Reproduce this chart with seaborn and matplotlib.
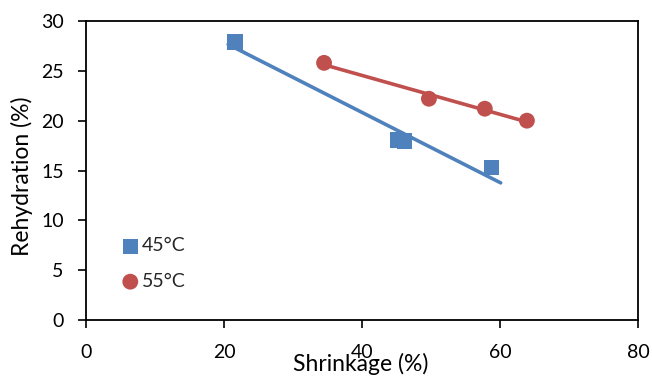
import numpy as np
import pandas as pd
import matplotlib
matplotlib.use("Agg")
import matplotlib.pyplot as plt
import seaborn as sns

# Shrinkage (%) vs rehydration (%) at two drying temperatures
shrink_45 = [21.6, 45.1, 46.2, 58.8]
rehyd_45 = [27.9, 18.05, 17.95, 15.3]
shrink_55 = [34.5, 49.7, 57.8, 63.9]
rehyd_55 = [25.8, 22.2, 21.2, 20.0]
labels = ["45°C", "55°C"]
x_ticks = [0, 20, 40, 60, 80]
y_ticks = [0, 5, 10, 15, 20, 25, 30]

sns.set_theme(style="white")
plt.rcParams["font.family"] = ["Lato", "DejaVu Sans"]

blue = "#4F81BD"
red = "#C0504D"

fig = plt.figure(figsize=(6.52, 3.77), dpi=100)
ax = fig.add_axes([86 / 652, 1 - 320 / 377, (638 - 86) / 652, (320 - 21) / 377])

df45 = pd.DataFrame({"x": shrink_45, "y": rehyd_45})
df55 = pd.DataFrame({"x": shrink_55, "y": rehyd_55})

# Linear trendlines
def trend(df, lo, hi):
    k, b = np.polyfit(df["x"], df["y"], 1)
    xs = np.array([lo, hi])
    return pd.DataFrame({"x": xs, "y": k * xs + b})

t45 = trend(df45, df45["x"].min() - 1.0, df45["x"].max() + 1.3)
t55 = trend(df55, df55["x"].min(), df55["x"].max())
sns.lineplot(data=t45, x="x", y="y", ax=ax, color=blue, lw=2.6, zorder=2)
sns.lineplot(data=t55, x="x", y="y", ax=ax, color=red, lw=2.6, zorder=2)

sns.scatterplot(data=df45, x="x", y="y", ax=ax, marker="s", s=120, color=blue,
                edgecolor="none", label=labels[0], zorder=3)
sns.scatterplot(data=df55, x="x", y="y", ax=ax, marker="o", s=130, color=red,
                edgecolor="none", label=labels[1], zorder=3)

ax.set_xlim(0, 80)
ax.set_ylim(0, 30)
ax.set_xticks(x_ticks)
ax.set_yticks(y_ticks)
ax.tick_params(axis="both", labelsize=14, colors="black", length=6, width=1.2,
               direction="out", bottom=True, left=True)
ax.tick_params(axis="x", pad=11)
ax.tick_params(axis="y", pad=10)
for s in ax.spines.values():
    s.set_color("black")
    s.set_linewidth(1.3)

ax.set_xlabel("Shrinkage (%)", fontsize=16.5, color="black")
ax.set_ylabel("Rehydration (%)", fontsize=16.5, color="black")
ax.xaxis.set_label_coords((361 - 86) / 552, -(353 - 320) / 299)
ax.yaxis.set_label_coords(-(86 - 33) / 552, (320 - 176) / 299)

leg = ax.legend(loc="lower left", bbox_to_anchor=(0.045, 0.075), frameon=False,
                fontsize=14, handletextpad=0.0, labelspacing=0.95,
                handlelength=1.2, borderaxespad=0)

fig.savefig("out.png", dpi=100)
